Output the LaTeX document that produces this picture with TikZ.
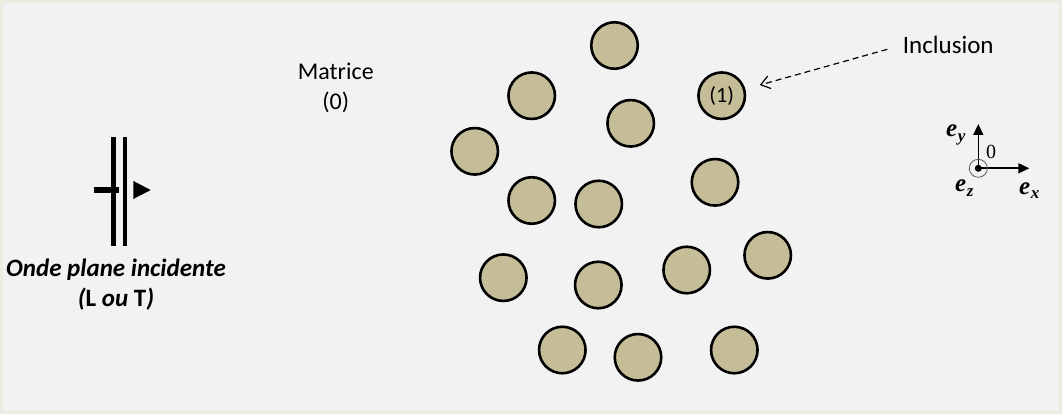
\documentclass[tikz,border=0pt]{standalone}
\usepackage{fontspec}
\setmainfont{Carlito}
\newfontfamily\vecfont{Liberation Serif}
\usetikzlibrary{arrows.meta}

\definecolor{bord}{RGB}{238,235,226}
\definecolor{fond}{RGB}{242,242,242}
\definecolor{sable}{RGB}{196,189,151}

\newcommand{\vecu}[1]{{\vecfont\bfseries\itshape e\kern0.5pt\raisebox{-5pt}{\fontsize{17}{17}\selectfont #1}}}

\begin{document}
\begin{tikzpicture}[x=1pt, y=-1pt,
  incl/.style={draw, circle, fill=sable, line width=2.6pt, minimum size=46.5pt, inner sep=0pt, font=\fontsize{22}{26}\selectfont},
  txt/.style={align=center, font=\fontsize{24}{30}\selectfont},
  lab/.style={inner sep=0pt, anchor=base west, font=\fontsize{25}{28}\selectfont},
  vec/.style={-{Triangle[length=11pt, width=10pt]}, line width=1.6pt},
  dasharr/.style={-{Straight Barb[length=9pt, width=13pt]}, line width=1.2pt, dash pattern=on 6pt off 4pt},
  wave/.style={line width=4.7pt}
]
  % fond
  \fill[bord] (0,0) rectangle (1062,414);
  \useasboundingbox (0,0) rectangle (1062,414);
  \fill[fond] (3,3) rectangle (1059,411);

  % inclusions
  \node[incl] (c1) at (614.5,45.5) {};
  \node[incl] (c2) at (531.7,95.7) {};
  \node[incl] (c3) at (630.7,123.3) {};
  \node[incl] (c4) at (721.7,95.7) {(1)};
  \node[incl] (c5) at (474.7,151.3) {};
  \node[incl] (c6) at (531.7,200.5) {};
  \node[incl] (c7) at (598.7,204) {};
  \node[incl] (c8) at (715,182.3) {};
  \node[incl] (c9) at (503.3,277.7) {};
  \node[incl] (c10) at (598.3,285) {};
  \node[incl] (c11) at (686.7,270) {};
  \node[incl] (c12) at (767.7,255.3) {};
  \node[incl] (c13) at (562.3,350) {};
  \node[incl] (c14) at (638,357.3) {};
  \node[incl] (c15) at (734.3,350) {};

  \node[txt] (mat) at (335.8,88) {Matrice\\(0)};
  \node[txt, font=\fontsize{25}{30}\selectfont, anchor=west, inner sep=0pt] (inc) at (902.7,45) {Inclusion};
  \draw[dasharr, shorten <=16pt, shorten >=15pt] (inc.west) -- (c4);

  % onde incidente
  \coordinate (w1) at (113.3,137.3);
  \coordinate (w2) at (125,137.3);
  \draw[wave] (w1) -- ++(0,108.7);
  \draw[wave] (w2) -- ++(0,108.7);
  \draw[line width=6pt] (94,189.7) -- (119,189.7);
  \fill (133.3,181) -- (150.7,190) -- (133.3,199) -- cycle;
  \node[txt, font=\fontsize{25}{30}\selectfont\bfseries\itshape] (onde) at (116,285)
    {Onde plane incidente\\({\upshape L} ou {\upshape T})};

  % repere
  \coordinate (o) at (978.3,168.3);
  \coordinate (tx) at (1029.3,168.3);
  \coordinate (ty) at (978.3,124);
  \draw[vec] (o) -- (tx);
  \draw[vec] (o) -- (ty);
  \draw[gray!70!black, line width=0.8pt] (o) circle (9pt);
  \fill (o) circle (3.5pt);
  \node[lab] (ey) at (946,137) {\vecu{y}};
  \node[lab] (ex) at (1019,194) {\vecu{x}};
  \node[lab] (ez) at (955,192) {\vecu{z}};
  \node[lab, font=\fontsize{20}{24}\vecfont] (zero) at (986,158.3) {0};
\end{tikzpicture}
\end{document}
